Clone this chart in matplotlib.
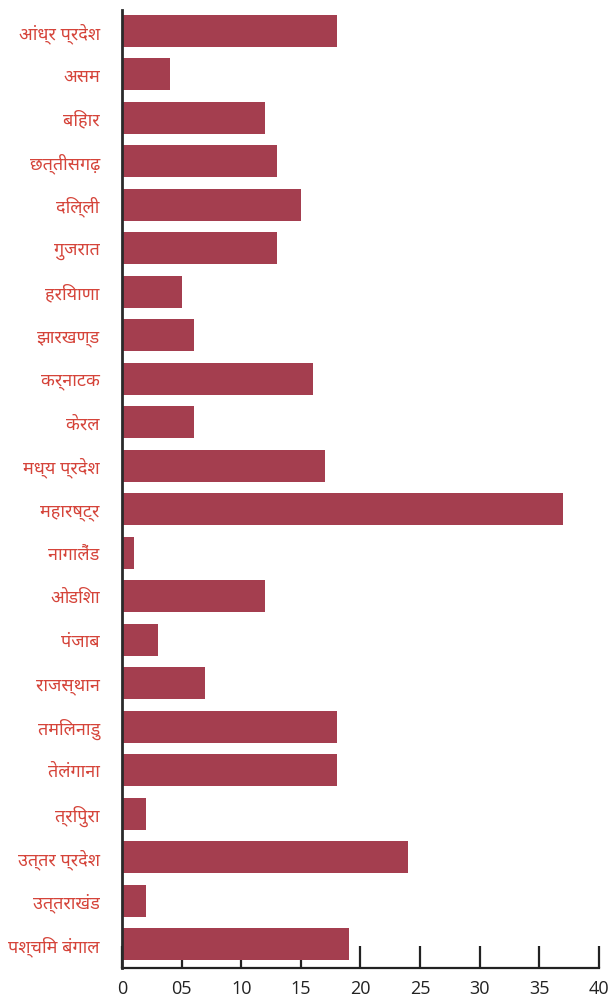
import matplotlib
matplotlib.use("Agg")
import matplotlib.pyplot as plt

states = ["आंध्र प्रदेश", "असम", "बिहार", "छत्तीसगढ़", "दिल्ली", "गुजरात", "हरियाणा",
          "झारखण्ड", "कर्नाटक", "केरल", "मध्य प्रदेश", "महारष्ट्र", "नागालैंड", "ओडिशा",
          "पंजाब", "राजस्थान", "तमिलनाडु", "तेलंगाना", "त्रिपुरा", "उत्तर प्रदेश",
          "उत्तराखंड", "पश्चिम बंगाल"]
counts = [18, 4, 12, 13, 15, 13, 5, 6, 16, 6, 17, 37, 1, 12, 3, 7, 18, 18, 2, 24, 2, 19]
xticks = [0, 5, 10, 15, 20, 25, 30, 35, 40]
xtick_labels = ["0", "05", "10", "15", "20", "25", "30", "35", "40"]

hindi_fonts = ["Noto Sans Devanagari", "Hind", "Mukta", "Ek Mukta", "FreeSans", "DejaVu Sans"]

fig = plt.figure(figsize=(6.09, 10), dpi=100)
ax = fig.add_axes([0.2003, 0.032, 0.7833, 0.958])

ypos = list(range(len(states)))
ax.barh(ypos, counts, height=0.74, color="#a43e4f", zorder=3)

ax.set_xlim(0, 40)
ax.set_ylim(21.55, -0.48)
ax.set_xticks(xticks)
ax.set_xticklabels(xtick_labels, family=["Open Sans", "DejaVu Sans"], fontsize=13, color="#222222")
ax.set_yticks(ypos)
ax.set_yticklabels(states, family=hindi_fonts, fontsize=13, color="#d5443a")

ax.tick_params(axis="x", direction="in", length=16, width=1.6, color="#222222", pad=9)
ax.tick_params(axis="y", length=0, pad=16)

for s in ["top", "right"]:
    ax.spines[s].set_visible(False)
ax.spines["left"].set_linewidth(2)
ax.spines["left"].set_color("#2a2a2a")
ax.spines["bottom"].set_linewidth(1.6)
ax.spines["bottom"].set_color("#222222")
ax.spines["left"].set_zorder(4)

fig.savefig("out.png")
